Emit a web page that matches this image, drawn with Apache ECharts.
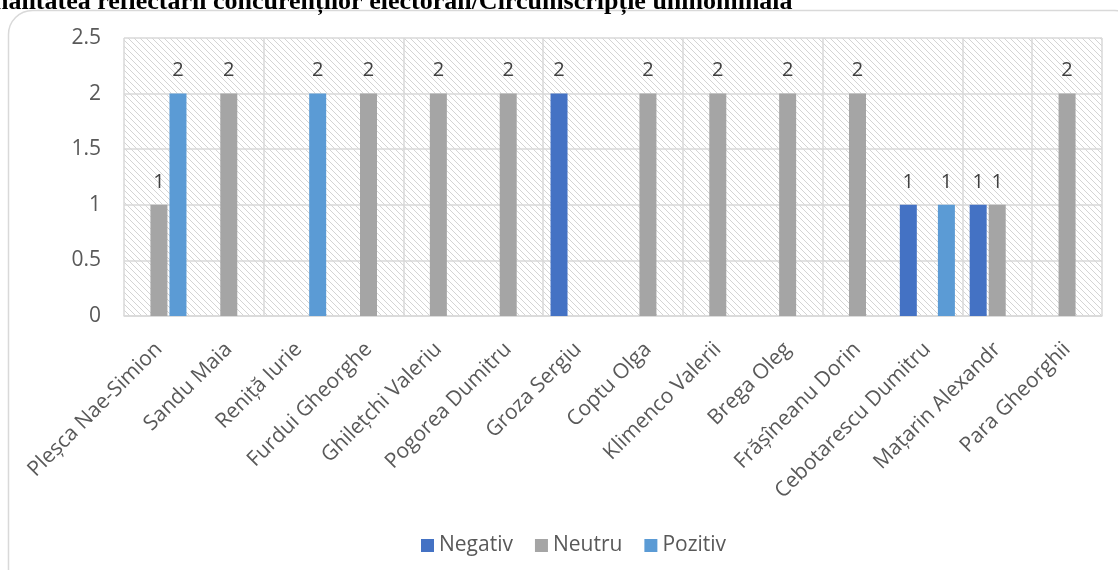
<!DOCTYPE html>
<html>
<head>
<meta charset="utf-8">
<script src="https://cdn.jsdelivr.net/npm/echarts@6/dist/echarts.min.js"></script>
<style>
html,body{margin:0;padding:0;background:#fff;}
#c{width:1118px;height:570px;}
</style>
</head>
<body>
<div id="c"></div>
<script>
const titleText = 'Tonalitatea reflectării concurenților electorali/Circumscripție uninominală';
const categories = ['Pleșca Nae-Simion','Sandu Maia','Reniță Iurie','Furdui Gheorghe','Ghilețchi Valeriu','Pogorea Dumitru','Groza Sergiu','Coptu Olga','Klimenco Valerii','Brega Oleg','Frășîneanu Dorin','Cebotarescu Dumitru','Mațarin Alexandr','Para Gheorghii'];
const negativ = [null,null,null,null,null,null,2,null,null,null,null,1,1,null];
const neutru  = [1,2,null,2,2,2,null,2,2,2,2,null,1,2];
const pozitiv = [2,null,2,null,null,null,null,null,null,null,null,1,null,null];
const yTicks = [0,0.5,1,1.5,2,2.5];

// hatch pattern
const pc = document.createElement('canvas');
pc.width = 6; pc.height = 6;
const g = pc.getContext('2d');
g.fillStyle = '#ffffff'; g.fillRect(0,0,6,6);
g.strokeStyle = '#d4d4d4'; g.lineWidth = 1;
g.beginPath();
g.moveTo(-1,-1); g.lineTo(7,7);
g.moveTo(-1,5); g.lineTo(1,7);
g.moveTo(5,-1); g.lineTo(7,1);
g.stroke();

const FONT = '"Open Sans", "Noto Sans", sans-serif';
const chart = echarts.init(document.getElementById('c'), null, {renderer:'canvas'});
const lbl = {show:true, position:'top', distance:13, color:'#404040', fontSize:20, fontFamily:FONT};
chart.setOption({
  animation:false,
  backgroundColor:'#ffffff',
  graphic:[
    {type:'rect', shape:{x:8.5,y:10.5,width:1130,height:600,r:24}, style:{fill:'none',stroke:'#d9d9d9',lineWidth:1.5}, z:-1},
    {type:'text', left:-34, top:-11, style:{text:titleText, font:'bold 26px "Liberation Serif", "Times New Roman", serif', fill:'#000'}}
  ],
  grid:{left:124,right:16,top:38,bottom:254,show:true,borderWidth:0,backgroundColor:{image:pc,repeat:'repeat'}},
  legend:{top:530,left:416,itemWidth:13,itemHeight:13,itemGap:22,icon:'rect',
    textStyle:{color:'#595959',fontSize:21,fontFamily:FONT},
    data:['Negativ','Neutru','Pozitiv']},
  xAxis:{type:'category',data:categories,
    axisLine:{lineStyle:{color:'#d9d9d9',width:1.5}},
    axisTick:{show:false},
    axisLabel:{interval:0,rotate:45,color:'#595959',fontSize:21,fontFamily:FONT,margin:30},
    splitLine:{show:true,interval:1,lineStyle:{color:'#d9d9d9',width:1.5}}},
  yAxis:{type:'value',min:0,max:2.5,interval:0.5,
    axisLine:{show:false},axisTick:{show:false},
    axisLabel:{color:'#595959',fontSize:21,fontFamily:FONT,margin:23,formatter:v=>String(v)},
    splitLine:{lineStyle:{color:'#d9d9d9',width:1.5}}},
  series:[
    {name:'Negativ',type:'bar',data:negativ,barWidth:17,barGap:'12%',itemStyle:{color:'#4472C4'},label:lbl},
    {name:'Neutru',type:'bar',data:neutru,barWidth:17,barGap:'12%',itemStyle:{color:'#A5A5A5'},label:lbl},
    {name:'Pozitiv',type:'bar',data:pozitiv,barWidth:17,barGap:'12%',itemStyle:{color:'#5B9BD5'},label:lbl}
  ]
});
</script>
</body>
</html>
